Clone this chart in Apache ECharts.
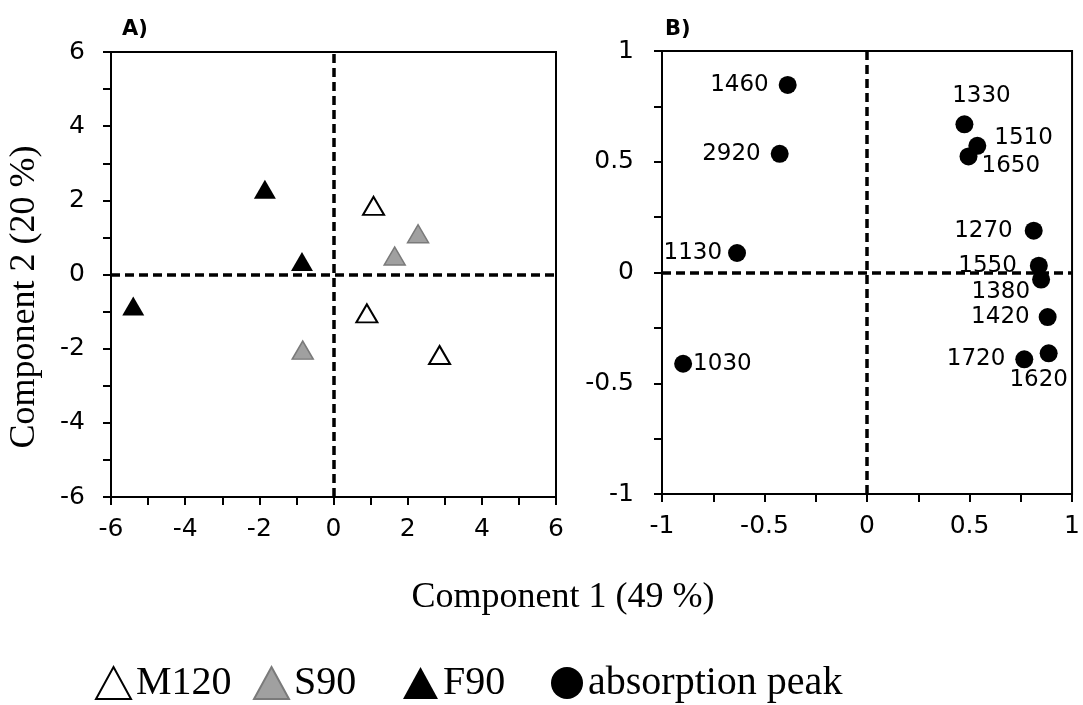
<!DOCTYPE html>
<html>
<head>
<meta charset="utf-8">
<script src="https://cdn.jsdelivr.net/npm/echarts@6/dist/echarts.min.js"></script>
<style>
  html, body { margin: 0; padding: 0; background: #fff; }
  #chart { width: 1083px; height: 705px; }
</style>
</head>
<body>
<div id="chart"></div>
<script>
// 样品得分 (Component 1, Component 2)
const m120 = [[1.08, 1.85], [0.9, -1.05], [2.86, -2.17]]
const s90 = [[2.28, 1.1], [1.65, 0.5], [-0.83, -2.04]]
const f90 = [[-1.85, 2.3], [-0.85, 0.35], [-5.4, -0.85]]

// 吸收峰载荷
const peakNames = ['1460', '2920', '1130', '1030', '1330', '1510', '1650', '1270', '1550', '1380', '1420', '1620', '1720']
const peakX = [-0.387, -0.426, -0.634, -0.897, 0.475, 0.538, 0.495, 0.813, 0.838, 0.849, 0.881, 0.886, 0.767]
const peakY = [0.847, 0.536, 0.088, -0.412, 0.669, 0.572, 0.524, 0.189, 0.031, -0.032, -0.201, -0.365, -0.392]

const legendNames = ['M120', 'S90', 'F90', 'absorption peak']

// 标签摆放
const peakLabelLayout = {
  '1460': { position: 'left', distance: 10 },
  '2920': { position: 'left', distance: 10 },
  '1130': { position: 'left', distance: 6 },
  '1030': { position: 'right', distance: 1 },
  '1330': { position: 'top', distance: 8, offset: [17, 0] },
  '1510': { position: 'right', distance: 8, offset: [0, -8] },
  '1650': { position: 'right', distance: 4, offset: [0, 10] },
  '1270': { position: 'left', distance: 12 },
  '1550': { position: 'left', distance: 13 },
  '1380': { position: 'left', distance: 2, offset: [0, 12] },
  '1420': { position: 'left', distance: 9 },
  '1620': { position: 'bottom', distance: 6, offset: [-10, 0] },
  '1720': { position: 'left', distance: 10 }
}

const sansFont = 'DejaVu Sans'
const serifFont = 'Liberation Serif'

const peakData = peakNames.map((name, i) => ({
  name,
  value: [peakX[i], peakY[i]],
  label: peakLabelLayout[name]
}))

const axisCommon = {
  axisLine: { onZero: false, lineStyle: { color: '#000', width: 2 } },
  axisTick: { inside: false, length: 8, lineStyle: { color: '#000', width: 2 } },
  minorTick: { show: true, splitNumber: 2, length: 8, lineStyle: { color: '#000', width: 2 } },
  splitLine: { show: false },
  axisLabel: { color: '#000', fontFamily: sansFont, fontSize: 25 }
}

const zeroLines = {
  silent: true,
  symbol: ['none', 'none'],
  label: { show: false },
  lineStyle: { color: '#000', type: [9, 5], width: 3.5, opacity: 1 },
  emphasis: { disabled: true },
  animation: false,
  data: [{ xAxis: 0 }, { yAxis: 0 }]
}

const chart = echarts.init(document.getElementById('chart'), null, { renderer: 'canvas' })

chart.setOption({
  animation: false,
  grid: [
    { left: 111, top: 52, width: 445, height: 445, show: true, borderColor: '#000', borderWidth: 2 },
    { left: 662, top: 51, width: 418, height: 443, show: true, borderColor: '#000', borderWidth: 2 }
  ],
  xAxis: [
    { ...axisCommon, gridIndex: 0, type: 'value', min: -6, max: 6, interval: 2,
      axisLabel: { ...axisCommon.axisLabel, margin: 20 } },
    { ...axisCommon, gridIndex: 1, type: 'value', min: -1, max: 1, interval: 0.5,
      axisLabel: { ...axisCommon.axisLabel, margin: 20 } }
  ],
  yAxis: [
    { ...axisCommon, gridIndex: 0, type: 'value', min: -6, max: 6, interval: 2,
      axisLabel: { ...axisCommon.axisLabel, margin: 26 } },
    { ...axisCommon, gridIndex: 1, type: 'value', min: -1, max: 1, interval: 0.5,
      axisLabel: { ...axisCommon.axisLabel, margin: 28 } }
  ],
  legend: legendNames.map((name, i) => ({
    left: [90, 248, 398, 546][i],
    top: 658,
    itemWidth: i === 3 ? 32 : 35,
    itemHeight: 32,
    selectedMode: false,
    textStyle: { fontFamily: serifFont, fontSize: 40, color: '#000' },
    data: [{ name, icon: i === 3 ? 'circle' : 'triangle' }]
  })),
  graphic: [
    { type: 'text', left: 122, top: 19, style: { text: 'A)', font: 'bold 21px "DejaVu Sans"', fill: '#000' } },
    { type: 'text', left: 665, top: 19, style: { text: 'B)', font: 'bold 21px "DejaVu Sans"', fill: '#000' } },
    { type: 'text', x: 563, y: 598,
      style: { text: 'Component 1 (49 %)', font: '36px "Liberation Serif"', fill: '#000', align: 'center', verticalAlign: 'middle' } },
    { type: 'text', x: 25, y: 297, rotation: Math.PI / 2,
      style: { text: 'Component 2 (20 %)', font: '36px "Liberation Serif"', fill: '#000', align: 'center', verticalAlign: 'middle' } }
  ],
  series: [
    { name: 'zeroA', type: 'scatter', xAxisIndex: 0, yAxisIndex: 0, data: [], z: 1, markLine: zeroLines },
    { name: 'zeroB', type: 'scatter', xAxisIndex: 1, yAxisIndex: 1, data: [], z: 1, markLine: zeroLines },
    {
      name: 'M120', type: 'scatter', xAxisIndex: 0, yAxisIndex: 0, z: 3,
      symbol: 'triangle', symbolSize: [21, 18], data: m120,
      itemStyle: { color: '#fff', borderColor: '#000', borderWidth: 2, opacity: 1 }
    },
    {
      name: 'S90', type: 'scatter', xAxisIndex: 0, yAxisIndex: 0, z: 3,
      symbol: 'triangle', symbolSize: [21, 18], data: s90,
      itemStyle: { color: '#a0a0a0', borderColor: '#7a7a7a', borderWidth: 1.5, opacity: 1 }
    },
    {
      name: 'F90', type: 'scatter', xAxisIndex: 0, yAxisIndex: 0, z: 3,
      symbol: 'triangle', symbolSize: [22, 19], data: f90,
      itemStyle: { color: '#000', opacity: 1 }
    },
    {
      name: 'absorption peak', type: 'scatter', xAxisIndex: 1, yAxisIndex: 1, z: 3,
      symbol: 'circle', symbolSize: 18, data: peakData,
      itemStyle: { color: '#000', opacity: 1 },
      label: {
        show: true,
        formatter: '{b}',
        color: '#000',
        fontFamily: sansFont,
        fontSize: 23
      }
    }
  ]
})

window.addEventListener('resize', () => chart.resize())
</script>
</body>
</html>
